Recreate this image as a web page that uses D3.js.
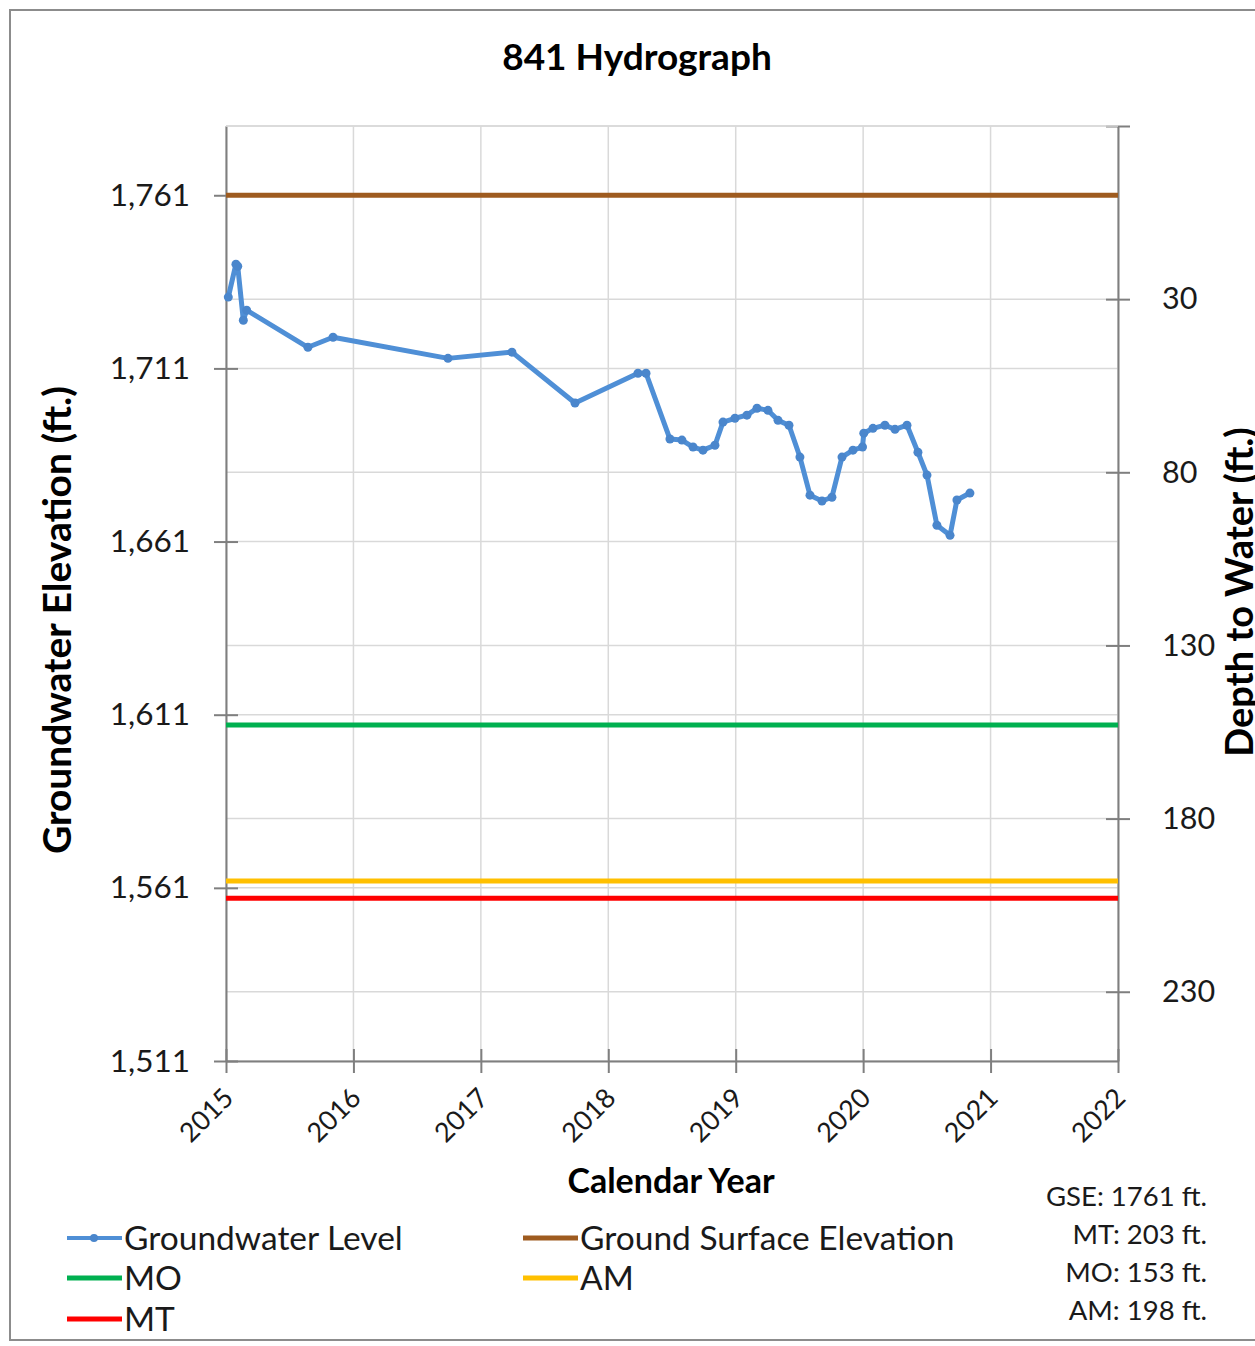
<!DOCTYPE html>
<html>
<head>
<meta charset="utf-8">
<script src="https://cdn.jsdelivr.net/npm/d3@7"></script>
<style>
  body { margin: 0; background: #fff; }
  svg { font-family: Lato, "Open Sans", sans-serif; }
</style>
</head>
<body>
<svg width="1255" height="1346"></svg>
<script>
// groundwater readings: decimal year, elevation (ft)
var years = [2015.018, 2015.078, 2015.092, 2015.136, 2015.162, 2015.643, 2015.840, 2016.742, 2017.244, 2017.739,
  2018.233, 2018.296, 2018.484, 2018.578, 2018.665, 2018.743, 2018.837, 2018.900, 2018.994, 2019.088,
  2019.167, 2019.253, 2019.332, 2019.418, 2019.504, 2019.583, 2019.677, 2019.755, 2019.834, 2019.920,
  2019.995, 2020.005, 2020.077, 2020.171, 2020.250, 2020.344, 2020.430, 2020.501, 2020.579, 2020.682,
  2020.736, 2020.838];
var levels = [1731.6, 1741.1, 1740.5, 1724.9, 1727.8, 1717.1, 1720.0, 1713.9, 1715.7, 1701.0,
  1709.6, 1709.6, 1690.6, 1690.3, 1688.3, 1687.4, 1688.8, 1695.5, 1696.6, 1697.5,
  1699.5, 1698.9, 1696.0, 1694.6, 1685.4, 1674.4, 1672.7, 1673.8, 1685.4, 1687.4,
  1688.3, 1692.3, 1693.7, 1694.6, 1693.4, 1694.6, 1686.8, 1680.2, 1665.7, 1662.8,
  1673.0, 1675.0];

var gse = 1761;
var refNames = ["Ground Surface Elevation", "MO", "AM", "MT"];
var refDepths = [0, 153, 198, 203];
var refColors = ["#9E5B1F", "#00B050", "#FFC000", "#FF0000"];

var leftTicks = [1511, 1561, 1611, 1661, 1711, 1761];
var rightTicks = [-20, 30, 80, 130, 180, 230];
var xTicks = [2015, 2016, 2017, 2018, 2019, 2020, 2021, 2022];
var notes = ["GSE: 1761 ft.", "MT: 203 ft.", "MO: 153 ft.", "AM: 198 ft."];

var blue = "#4F8FD6";

var svg = d3.select("svg"),
    margin = {top: 126, left: 226, right: 137, bottom: 285},
    width = 1255 - margin.left - margin.right,
    height = 1346 - margin.top - margin.bottom;

var x = d3.scaleLinear().domain([2015, 2022]).range([0, width]),
    y = d3.scaleLinear().domain([1511, 1781]).range([height, 0]),
    yDepth = d3.scaleLinear().domain([gse - 1511, gse - 1781]).range([height, 0]);

// outer frame
svg.append("rect")
  .attr("x", 10).attr("y", 10)
  .attr("width", 1262).attr("height", 1330)
  .attr("fill", "none").attr("stroke", "#8c8c8c").attr("stroke-width", 2);

svg.append("text")
  .attr("x", 637).attr("y", 70)
  .attr("text-anchor", "middle")
  .attr("font-size", 37).attr("font-weight", "bold")
  .text("841 Hydrograph");

var g = svg.append("g")
  .attr("transform", "translate(" + margin.left + "," + margin.top + ")");

// grid
var grid = g.append("g").attr("stroke", "#d9d9d9").attr("stroke-width", 1.5);
grid.selectAll(".gx").data(xTicks).enter().append("line")
  .attr("x1", function(d) { return x(d); }).attr("x2", function(d) { return x(d); })
  .attr("y1", 0).attr("y2", height);
grid.selectAll(".gl").data(leftTicks).enter().append("line")
  .attr("x1", 0).attr("x2", width)
  .attr("y1", function(d) { return y(d); }).attr("y2", function(d) { return y(d); });
grid.selectAll(".gr").data(rightTicks).enter().append("line")
  .attr("x1", 0).attr("x2", width)
  .attr("y1", function(d) { return yDepth(d); }).attr("y2", function(d) { return yDepth(d); });

// axes
var axisColor = "#7f7f7f";
function styleAxis(sel) {
  sel.select(".domain").attr("stroke", axisColor).attr("stroke-width", 2);
  sel.selectAll(".tick line").attr("stroke", axisColor).attr("stroke-width", 2);
  sel.selectAll(".tick text").attr("fill", "#1a1a1a").attr("font-family", "Lato, sans-serif");
}

var yAxis = g.append("g")
  .call(d3.axisLeft(y).tickValues(leftTicks).tickFormat(d3.format(",")).tickSizeInner(12).tickSizeOuter(0))
  .attr("font-size", 31.5);
yAxis.selectAll(".tick line").attr("x2", 12).attr("x1", -12);
styleAxis(yAxis);
yAxis.selectAll(".tick text").attr("x", -36);

var rAxis = g.append("g")
  .attr("transform", "translate(" + width + ",0)")
  .call(d3.axisRight(yDepth).tickValues(rightTicks).tickFormat(function(d) { return d < 0 ? "" : d; }).tickSizeInner(12).tickSizeOuter(0))
  .attr("font-size", 30.5);
rAxis.selectAll(".tick line").attr("x1", -12).attr("x2", 12);
styleAxis(rAxis);
rAxis.selectAll(".tick text").attr("x", 44);

var xAxis = g.append("g")
  .attr("transform", "translate(0," + height + ")")
  .call(d3.axisBottom(x).tickValues(xTicks).tickFormat(d3.format("d")).tickSizeInner(12).tickSizeOuter(0))
  .attr("font-size", 27);
xAxis.selectAll(".tick line").attr("y1", -12).attr("y2", 12);
styleAxis(xAxis);
xAxis.selectAll(".tick text")
  .attr("text-anchor", "end")
  .attr("dx", "0")
  .attr("dy", "0")
  .attr("transform", "translate(-2,28) rotate(-45)");

// top gridline
g.append("line").attr("x1", 0).attr("x2", width).attr("y1", 0).attr("y2", 0)
  .attr("stroke", "#d9d9d9").attr("stroke-width", 1.5);

// reference lines
g.selectAll(".ref").data(refDepths).enter().append("line")
  .attr("x1", 0).attr("x2", width)
  .attr("y1", function(d) { return y(gse - d); })
  .attr("y2", function(d) { return y(gse - d); })
  .attr("stroke", function(d, i) { return refColors[i]; })
  .attr("stroke-width", 5);

// groundwater series
var pts = years.map(function(d, i) { return [d, levels[i]]; });
var line = d3.line().x(function(d) { return x(d[0]); }).y(function(d) { return y(d[1]); });
g.append("path").datum(pts)
  .attr("fill", "none").attr("stroke", blue).attr("stroke-width", 5)
  .attr("stroke-linejoin", "round")
  .attr("d", line);
g.selectAll(".pt").data(pts).enter().append("circle")
  .attr("cx", function(d) { return x(d[0]); })
  .attr("cy", function(d) { return y(d[1]); })
  .attr("r", 4.5).attr("fill", "#4A86CC");

// axis titles
svg.append("text")
  .attr("transform", "translate(71,620) rotate(-90)")
  .attr("text-anchor", "middle")
  .attr("font-size", 39).attr("font-weight", "bold")
  .text("Groundwater Elevation (ft.)");
svg.append("text")
  .attr("transform", "translate(1253,592) rotate(-90)")
  .attr("text-anchor", "middle")
  .attr("font-size", 38).attr("font-weight", "bold")
  .text("Depth to Water (ft.)");
svg.append("text")
  .attr("x", 671).attr("y", 1193)
  .attr("text-anchor", "middle")
  .attr("font-size", 34).attr("font-weight", "bold")
  .text("Calendar Year");

// legend
var legendItems = [
  {name: "Groundwater Level", color: blue, lx: 67, ly: 1238, marker: true},
  {name: refNames[0], color: refColors[0], lx: 523, ly: 1238},
  {name: refNames[1], color: refColors[1], lx: 67, ly: 1278},
  {name: refNames[2], color: refColors[2], lx: 523, ly: 1278},
  {name: refNames[3], color: refColors[3], lx: 67, ly: 1319}
];
var leg = svg.selectAll(".leg").data(legendItems).enter().append("g")
  .attr("transform", function(d) { return "translate(" + d.lx + "," + d.ly + ")"; });
leg.append("line").attr("x1", 0).attr("x2", 55)
  .attr("stroke", function(d) { return d.color; })
  .attr("stroke-width", function(d) { return d.marker ? 4 : 5; });
leg.filter(function(d) { return d.marker; }).append("circle")
  .attr("cx", 27).attr("r", 4).attr("fill", "#4A86CC");
leg.append("text").attr("x", 57).attr("y", 12)
  .attr("font-size", 33.5).attr("fill", "#1a1a1a")
  .text(function(d) { return d.name; });

// note box
svg.selectAll(".note").data(notes).enter().append("text")
  .attr("x", 1207)
  .attr("y", function(d, i) { return 1206 + i * 38; })
  .attr("text-anchor", "end")
  .attr("font-size", 27.5).attr("fill", "#1a1a1a")
  .text(function(d) { return d; });
</script>
</body>
</html>
